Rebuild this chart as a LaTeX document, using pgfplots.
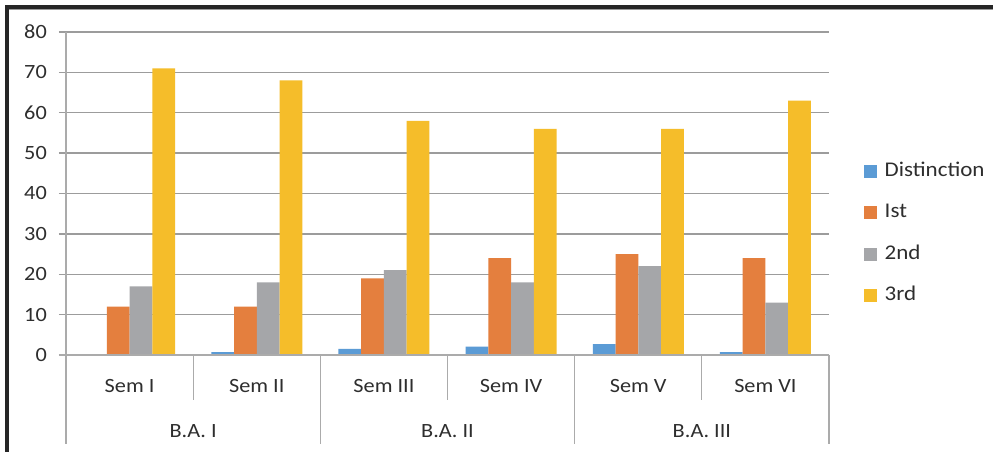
\documentclass[border=0pt]{standalone}
\usepackage{fontspec}
\setmainfont{Carlito}[FakeStretch=1.1]
\usepackage{pgfplots}
\pgfplotsset{compat=1.18}
\definecolor{cDist}{HTML}{5B9BD5}
\definecolor{cIst}{HTML}{E47F3E}
\definecolor{cSnd}{HTML}{A5A6A9}
\definecolor{cTrd}{HTML}{F5BD2A}
\definecolor{gridc}{HTML}{9C9C9C}
\definecolor{axc}{HTML}{ABABAB}
\definecolor{txt}{HTML}{2E2E2E}
\begin{document}
\begin{tikzpicture}[x=1bp,y=1bp]
\useasboundingbox (0,0) rectangle (993,452);
\fill[white] (0,0) rectangle (993,452);
\draw[line width=4bp, black!85] (7,-2) -- (7,445) -- (995,445);
\draw[line width=0.8bp, black!40] (9,442.5) -- (995,442.5);
\begin{axis}[
  at={(66bp,97bp)}, anchor=south west,
  scale only axis, width=763bp, height=323bp,
  xmin=0, xmax=6, ymin=0, ymax=80,
  ytick={0,10,...,80}, xtick=\empty,
  ymajorgrids, grid style={gridc, line width=1.4bp},
  axis x line*=bottom, axis y line*=left,
  axis line style={axc, line width=1.3bp, -},
  ytick align=outside, major tick length=7bp,
  ytick style={gridc, line width=1.4bp},
  /pgf/number format/assume math mode=true,
  yticklabel style={font=\fontsize{20.3}{21}\selectfont, text=txt, anchor=east, inner sep=0pt, xshift=-12bp},
  ybar=0pt, bar width=22.75bp,
  every axis plot/.append style={draw=none},
  legend style={at={(1.0459,0.598)}, anchor=north west, draw=none, fill=none, inner sep=0pt,
    font=\fontsize{21}{22}\selectfont, text=txt, row sep=23.5bp,
    nodes={inner sep=0pt, text height=14bp, text depth=4bp},
    /tikz/every odd column/.append style={column sep=8bp}},
  legend cell align=left,
  legend image code/.code={\fill[#1] (0bp,-6.5bp) rectangle (12.5bp,6.5bp);},
  clip=false,
]
\addplot[fill=cDist] coordinates {(0.5,0) (1.5,0.7) (2.5,1.5) (3.5,2.1) (4.5,2.7) (5.5,0.7)};
\addplot[fill=cIst] coordinates {(0.5,12) (1.5,12) (2.5,19) (3.5,24) (4.5,25) (5.5,24)};
\addplot[fill=cSnd] coordinates {(0.5,17) (1.5,18) (2.5,21) (3.5,18) (4.5,22) (5.5,13)};
\addplot[fill=cTrd] coordinates {(0.5,71) (1.5,68) (2.5,58) (3.5,56) (4.5,56) (5.5,63)};
\legend{Distinction, Ist, 2nd, 3rd}
\pgfplotsinvokeforeach{1,3,5}{\draw[axc, line width=1.3bp] (axis cs:#1,0) -- ([yshift=-45bp]axis cs:#1,0);}
\pgfplotsinvokeforeach{0,2,4,6}{\draw[axc, line width=1.3bp] (axis cs:#1,0) -- ([yshift=-89bp]axis cs:#1,0);}
\draw[axc, line width=1.3bp] ([xshift=-7bp]axis cs:0,0) -- (axis cs:6,0);
\tikzset{catlab/.style={text=txt, font=\fontsize{20.3}{21}\selectfont, inner sep=0pt}}
\node[catlab] at ([yshift=-31bp]axis cs:0.5,0) {Sem I};
\node[catlab] at ([yshift=-31bp]axis cs:1.5,0) {Sem II};
\node[catlab] at ([yshift=-31bp]axis cs:2.5,0) {Sem III};
\node[catlab] at ([yshift=-31bp]axis cs:3.5,0) {Sem IV};
\node[catlab] at ([yshift=-31bp]axis cs:4.5,0) {Sem V};
\node[catlab] at ([yshift=-31bp]axis cs:5.5,0) {Sem VI};
\node[catlab] at ([yshift=-76bp]axis cs:1,0) {B.A. I};
\node[catlab] at ([yshift=-76bp]axis cs:3,0) {B.A. II};
\node[catlab] at ([yshift=-76bp]axis cs:5,0) {B.A. III};
\end{axis}
\end{tikzpicture}
\end{document}
